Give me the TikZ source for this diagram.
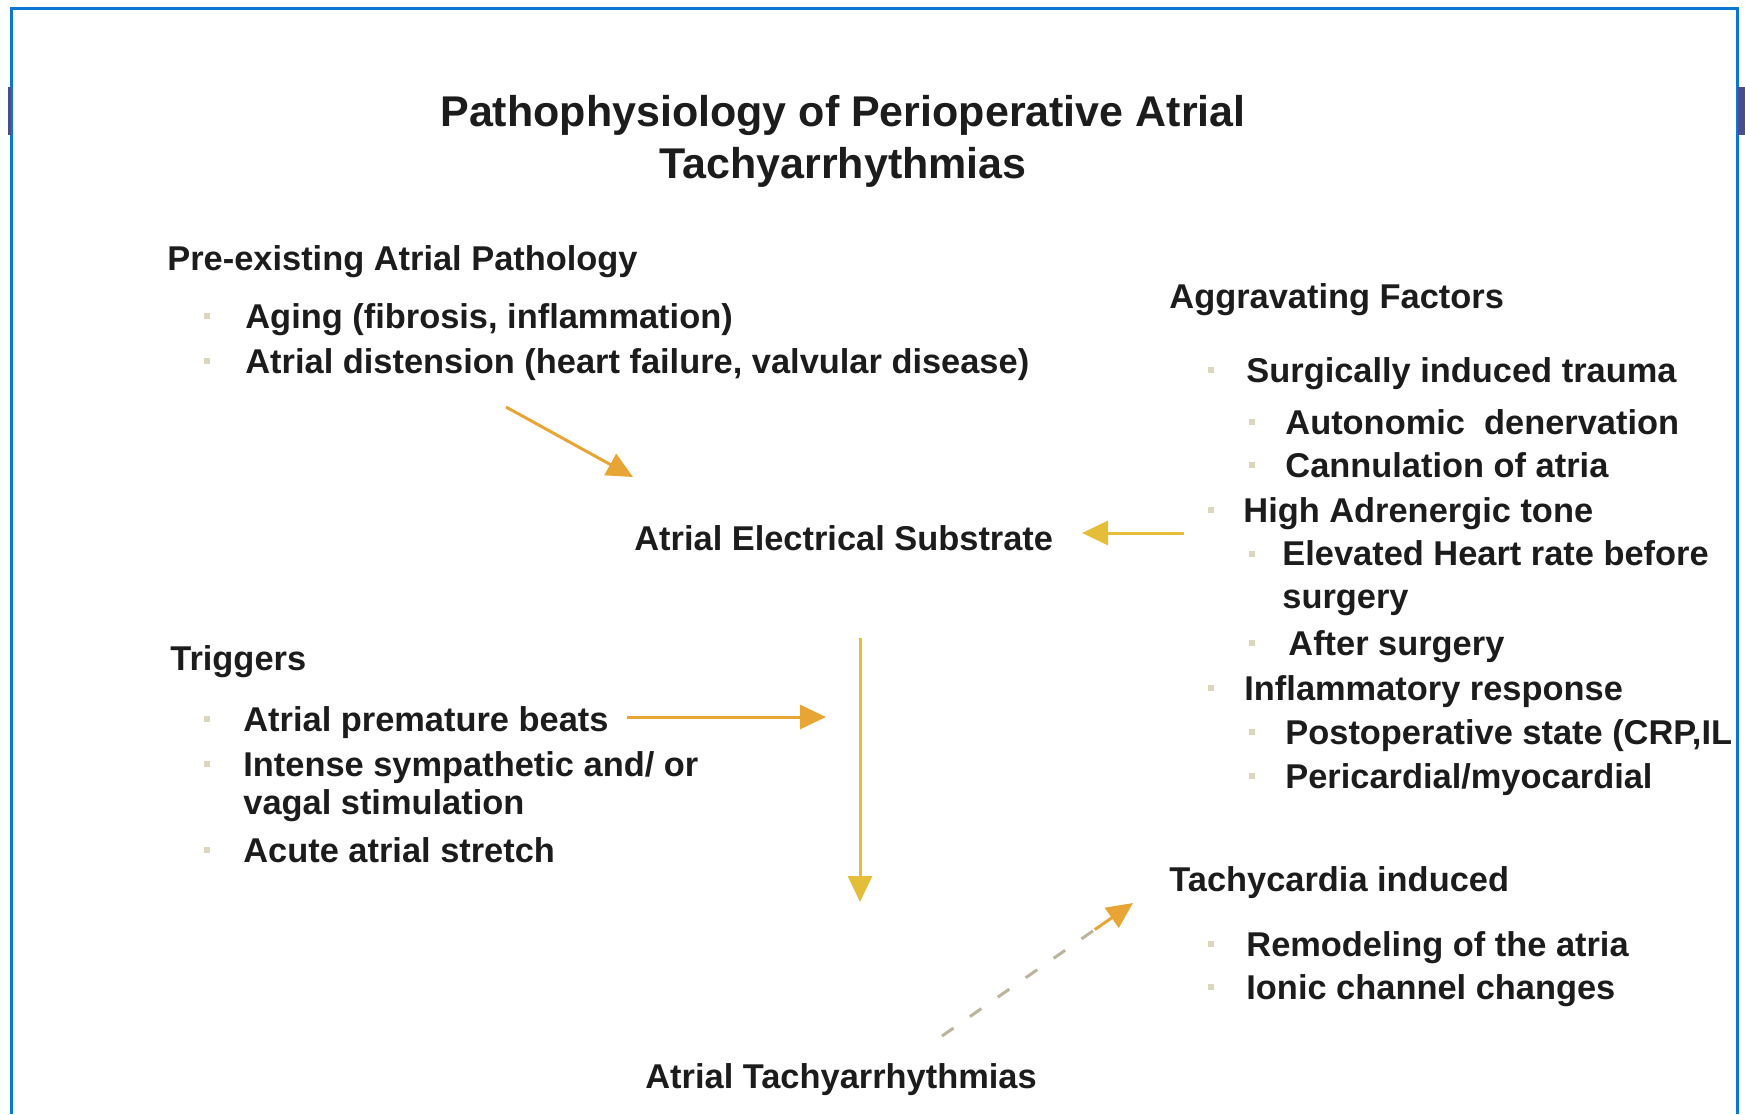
\documentclass[tikz,border=0pt]{standalone}
\usepackage{fontspec}
\setmainfont{Liberation Sans}
\usetikzlibrary{arrows.meta,calc}
\definecolor{bordblue}{HTML}{0A78D2}
\definecolor{tabblue}{HTML}{4B4E8E}
\definecolor{arrorange}{HTML}{E8A535}
\definecolor{arryellow}{HTML}{E4BE38}
\definecolor{dashgray}{HTML}{BCB49C}
\definecolor{bulletc}{HTML}{DCD6BC}
\definecolor{txtc}{HTML}{1C1C1C}
\begin{document}
\begin{tikzpicture}[x=0.5pt,y=-0.5pt,
  txt/.style={anchor=base west, inner sep=0pt, align=left,
    font=\fontsize{17.2pt}{21.5pt}\selectfont\bfseries, text=txtc},
  tighttxt/.style={txt, font=\fontsize{17.2pt}{19pt}\selectfont\bfseries},
  ttl/.style={anchor=base, inner sep=0pt,
    font=\fontsize{21.5pt}{26pt}\selectfont\bfseries, text=txtc},
  bul/.style={fill=bulletc, inner sep=0pt, minimum size=3pt, draw=none},
  arr/.style={line width=1.5pt, -{Triangle[length=13pt,width=12pt]}},
]
\useasboundingbox (0,0) rectangle (1745,1114);
% frame
\draw[bordblue, line width=1.5pt] (11,1114) -- (11,8) -- (1737,8) -- (1737,1114);
\fill[tabblue] (8,87) rectangle (11,135);
\fill[tabblue] (1738,87) rectangle (1745,135);

% title
\node[ttl] (title1) at (843,126) {Pathophysiology of Perioperative Atrial};
\node[ttl] (title2) at (843,178) {Tachyarrhythmias};

% pre-existing
\node[txt] (pre) at (167,270) {Pre-existing Atrial Pathology};
\node[bul] (bpre1) at (207,316) {};
\node[txt] (aging) at (245,328) {Aging (fibrosis, inflammation)};
\node[bul] (bpre2) at (207,361) {};
\node[txt] (dist) at (245,373) {Atrial distension (heart failure, valvular disease)};

% substrate
\node[txt] (subs) at (634,550) {Atrial Electrical Substrate};

% aggravating
\node[txt] (aggr) at (1169,308) {Aggravating Factors};
\node[bul] (bag1) at (1211,370) {};
\node[txt] (surg) at (1246,382) {Surgically induced trauma};
\node[bul] (bag2) at (1252,422) {};
\node[txt] (auto) at (1285,434) {Autonomic\ \ denervation};
\node[bul] (bag3) at (1252,465) {};
\node[txt] (cann) at (1285,477) {Cannulation of atria};
\node[bul] (bag4) at (1211,510) {};
\node[txt] (high) at (1243,522) {High Adrenergic tone};
\node[bul] (bag5) at (1252,554) {};
\node[txt] (elev) at (1282,608) {Elevated Heart rate before\\surgery};
\node[bul] (bag6) at (1252,643) {};
\node[txt] (after) at (1288,655) {After surgery};
\node[bul] (bag7) at (1211,688) {};
\node[txt] (infl) at (1244,700) {Inflammatory response};
\node[bul] (bag8) at (1252,732) {};
\node[txt] (post) at (1285,744) {Postoperative state (CRP,IL};
\node[bul] (bag9) at (1252,776) {};
\node[txt] (peri) at (1285,788) {Pericardial/myocardial};

% triggers
\node[txt] (trig) at (170,670) {Triggers};
\node[bul] (btr1) at (207,719) {};
\node[txt] (apb) at (243,731) {Atrial premature beats};
\node[bul] (btr2) at (207,764) {};
\node[tighttxt] (intense) at (243,814) {Intense sympathetic and/ or\\vagal stimulation};
\node[bul] (btr3) at (207,850) {};
\node[txt] (acute) at (243,862) {Acute atrial stretch};

% tachycardia induced
\node[txt] (tind) at (1169,891) {Tachycardia induced};
\node[bul] (bti1) at (1211,944) {};
\node[txt] (remod) at (1246,956) {Remodeling of the atria};
\node[bul] (bti2) at (1211,987) {};
\node[txt] (ionic) at (1246,999) {Ionic channel changes};

% outcome
\node[txt] (atach) at (645,1088) {Atrial Tachyarrhythmias};

% connector end points
\coordinate (a1s) at (506,407);
\coordinate (a1e) at (633,477);
\coordinate (a2s) at (1184,533);
\coordinate (a2e) at (1082,533);
\coordinate (a3s) at (627,717);
\coordinate (a3e) at (826,717);
\coordinate (a4s) at (860,638);
\coordinate (a4e) at (860,902);
\coordinate (a5s) at (942,1036);
\coordinate (a5e) at (1133,903);

\draw[arr, arrorange] (a1s) -- (a1e);
\draw[arr, arryellow] (a2s) -- (a2e);
\draw[arr, arrorange] (a3s) -- (a3e);
\draw[arr, arryellow] (a4s) -- (a4e);
\draw[line width=1.5pt, dashgray, dash pattern=on 7pt off 10pt] (a5s) -- ($(a5s)!0.85!(a5e)$);
\draw[arr, arrorange] ($(a5s)!0.8!(a5e)$) -- (a5e);
\end{tikzpicture}
\end{document}
